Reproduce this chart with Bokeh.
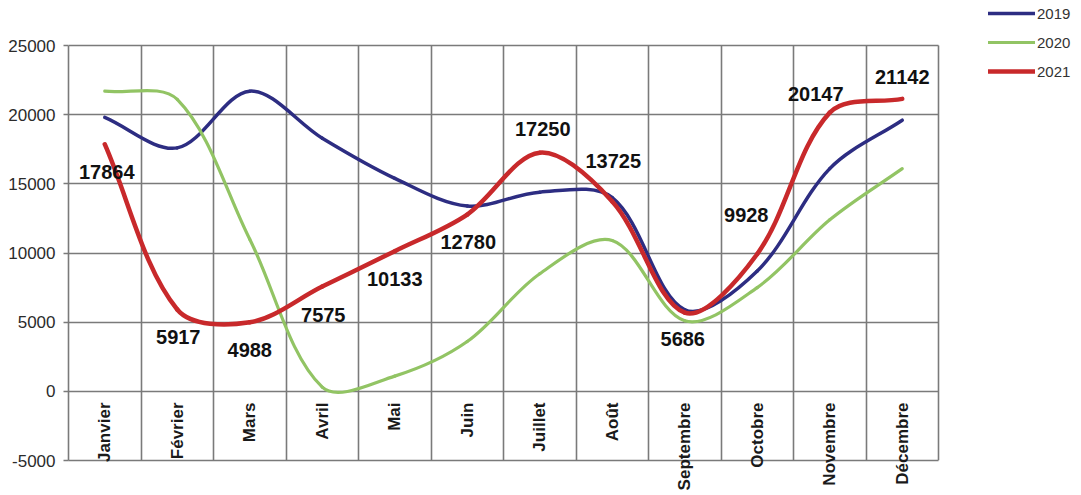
import math
from bokeh.plotting import figure
from bokeh.models import Range1d, FixedTicker, Legend, LegendItem, ColumnDataSource
from bokeh.core.properties import value
from bokeh.embed import file_html
from bokeh.resources import INLINE

# ---- data ----
months = ["Janvier", "Février", "Mars", "Avril", "Mai", "Juin", "Juillet",
          "Août", "Septembre", "Octobre", "Novembre", "Décembre"]
v2019 = [19800, 17600, 21700, 18300, 15400, 13400, 14400, 14000, 5900, 8700, 16100, 19600]
v2020 = [21700, 21100, 11000, 300, 1100, 3600, 8500, 10900, 5100, 7500, 12400, 16100]
v2021 = [17864, 5917, 4988, 7575, 10133, 12780, 17250, 13725, 5686, 9928, 20147, 21142]
series_names = ["2019", "2020", "2021"]
y_ticks = [-5000, 0, 5000, 10000, 15000, 20000, 25000]

# ---- styles / layout ----
colors = ["#2D2D82", "#92C464", "#C8292B"]
widths = [3.5, 3.2, 4.5]
lab_dx = [2, 1, 0, 1, 0, 1, 3, 1, -2, -11, -14, 0]
lab_dy = [28, 28, 28, 28, 28, 27, -24, -40, 26, -39, -19, -22]
FONT = "Liberation Sans"
GRID = "#7a7a7a"
W, H = 1081, 495
ML, MB = 68, 35            # left / bottom panels (axes)
GRID_W, GRID_H = 870, 415  # size of the gridded area in px
GRID_TOP = 45              # px from top of canvas to the 25000 line
YMIN, YMAX = -5000, 25000

n = len(months)
xc = [i + 0.5 for i in range(n)]
sx = GRID_W / n                   # px per x unit
sy = GRID_H / (YMAX - YMIN)       # px per y unit
x_end = (W - ML) / sx
y_end = YMAX + GRID_TOP / sy


def smooth_segments(xs, ys, f=1.0 / 6.0):
    pts = list(zip(xs, ys))
    m = len(pts)

    def dist(a, b):
        return math.hypot((a[0] - b[0]) * sx, (a[1] - b[1]) * sy)

    d = dict(x0=[], y0=[], x1=[], y1=[], cx0=[], cy0=[], cx1=[], cy1=[])
    for i in range(m - 1):
        p0 = pts[i - 1] if i > 0 else pts[i]
        p1 = pts[i]
        p2 = pts[i + 1]
        p3 = pts[i + 2] if i + 2 < m else pts[i + 1]
        d01, d12, d23 = dist(p0, p1), dist(p1, p2), dist(p2, p3)
        a = 2 * f * d12 / (d01 + d12) if d01 + d12 > 0 else 0
        b = 2 * f * d12 / (d12 + d23) if d12 + d23 > 0 else 0
        d["x0"].append(p1[0]); d["y0"].append(p1[1])
        d["x1"].append(p2[0]); d["y1"].append(p2[1])
        d["cx0"].append(p1[0] + (p2[0] - p0[0]) * a)
        d["cy0"].append(p1[1] + (p2[1] - p0[1]) * a)
        d["cx1"].append(p2[0] - (p3[0] - p1[0]) * b)
        d["cy1"].append(p2[1] - (p3[1] - p1[1]) * b)
    return d


p = figure(width=W, height=H, output_backend="svg", toolbar_location=None, title=None,
           x_range=Range1d(0, x_end), y_range=Range1d(YMIN, y_end),
           min_border_left=ML, min_border_right=0, min_border_top=0,
           min_border_bottom=MB)
p.background_fill_color = "white"
p.border_fill_color = "white"
p.outline_line_color = None

# grid limited to the chart area
p.xgrid.ticker = FixedTicker(ticks=list(range(n + 1)))
p.ygrid.ticker = FixedTicker(ticks=y_ticks)
for g in (p.xgrid, p.ygrid):
    g.grid_line_color = GRID
    g.grid_line_width = 1.6
if "cross_bounds" in p.xgrid[0].properties():
    p.xgrid[0].cross_bounds = (YMIN, YMAX)
    p.ygrid[0].cross_bounds = (0, n)
else:
    p.xgrid.visible = False
    p.ygrid.visible = False
    bx = list(range(1, n + 1))
    p.segment(x0=bx, y0=[YMIN] * len(bx), x1=bx, y1=[YMAX] * len(bx),
              line_color=GRID, line_width=1.6, level="underlay")
    hy = y_ticks[1:]
    p.segment(x0=[0] * len(hy), y0=hy, x1=[n] * len(hy), y1=hy,
              line_color=GRID, line_width=1.6, level="underlay")

# x axis: bottom border of the chart, month names just under the zero line
xa = p.xaxis[0]
xa.bounds = (0, n)
xa.ticker = FixedTicker(ticks=xc)
xa.major_label_overrides = {c: m for c, m in zip(xc, months)}
xa.major_label_orientation = math.pi / 2
xa.major_label_standoff = -58
xa.major_tick_in = 0
xa.major_tick_out = 0
xa.minor_tick_line_color = None
xa.axis_line_color = GRID
xa.axis_line_width = 1.6
xa.major_label_text_font = FONT
xa.major_label_text_font_style = "bold"
xa.major_label_text_font_size = "17px"
xa.major_label_text_color = "#1a1a1a"

ya = p.yaxis[0]
ya.bounds = (YMIN, YMAX)
ya.ticker = FixedTicker(ticks=y_ticks)
ya.major_label_overrides = {t: str(t) for t in y_ticks}
ya.major_label_text_font = FONT
ya.major_label_text_font_size = "17px"
ya.major_label_text_color = "#2b2b2b"
ya.major_tick_in = 0
ya.major_tick_out = 5
ya.major_tick_line_color = GRID
ya.major_tick_line_width = 1.6
ya.minor_tick_line_color = None
ya.axis_line_color = GRID
ya.axis_line_width = 1.6
ya.major_label_standoff = 8

renderers = []
for vals, col, w in zip([v2019, v2020, v2021], colors, widths):
    src = ColumnDataSource(smooth_segments(xc, vals))
    r = p.bezier(x0="x0", y0="y0", x1="x1", y1="y1", cx0="cx0", cy0="cy0",
                 cx1="cx1", cy1="cy1", source=src, line_color=col, line_width=w,
                 line_cap="round")
    renderers.append(r)

# 2021 value labels
p.text(x=xc, y=v2021, text=[str(v) for v in v2021], x_offset=lab_dx, y_offset=lab_dy,
       text_align="center", text_baseline="middle",
       text_font=value(FONT), text_font_style="bold",
       text_font_size="20px", text_color="#111111")

# legend at the top right, outside the gridded area
legend = Legend(items=[LegendItem(label=nm, renderers=[r]) for nm, r in zip(series_names, renderers)],
                location=(920, GRID_H + GRID_TOP - 3 - 78), padding=0, spacing=9,
                glyph_width=47, glyph_height=20, label_height=20, label_standoff=2,
                label_text_font=FONT, label_text_font_size="15px",
                label_text_color="#333333", border_line_color=None,
                background_fill_alpha=0)
p.add_layout(legend, "center")

open("out.html", "w").write(file_html(p, INLINE))
